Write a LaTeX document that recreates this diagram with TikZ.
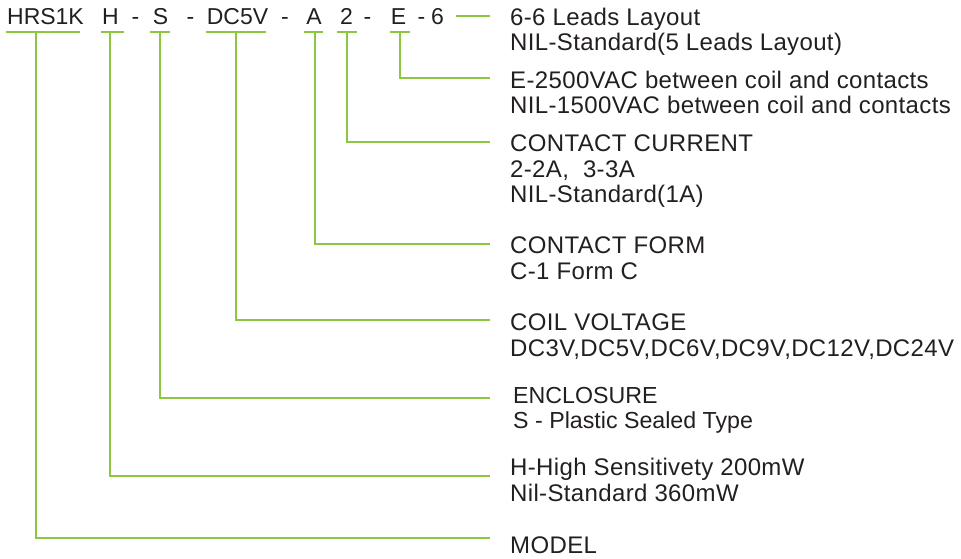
\documentclass[tikz,border=0pt]{standalone}
\usepackage{fontspec}
\setmainfont{Liberation Sans}
\newfontfamily\descfont{Liberation Sans}[LetterSpace=1.5]
\definecolor{lg}{RGB}{141,198,63}
\definecolor{txt}{RGB}{35,31,32}
\begin{document}
\begin{tikzpicture}[x=1pt,y=-1pt,
  code/.style={anchor=base,inner sep=0pt,font=\fontsize{23}{26}\selectfont,text=txt},
  desc/.style={anchor=base west,inner sep=0pt,font=\descfont\fontsize{24}{26}\selectfont,text=txt},
  descs/.style={anchor=base west,inner sep=0pt,font=\fontsize{23.2}{26}\selectfont,text=txt},
  lead/.style={draw=lg,line width=1.8pt}]
\useasboundingbox (0,0) rectangle (961,559);
% code pieces
\node[code] (cM) at (45.5,25) {HRS1K};
\node[code] (cH) at (110.5,25) {H};
\node[code] (d1) at (135.5,25) {-};
\node[code] (cS) at (160.5,25) {S};
\node[code] (d2) at (190.5,25) {-};
\node[code] (cV) at (237.5,25) {DC5V};
\node[code] (d3) at (285,25) {-};
\node[code] (cA) at (314,25) {A};
\node[code] (c2) at (346.5,25) {2};
\node[code] (d4) at (367.5,25) {-};
\node[code] (cE) at (398.5,25) {E};
\node[code] (d5) at (421.5,25) {-};
\node[code] (c6) at (437.5,25) {6};
% underlines
\coordinate (uMa) at (6,32);   \coordinate (uMb) at (80,32);
\coordinate (uHa) at (101,32); \coordinate (uHb) at (124,32);
\coordinate (uSa) at (150,32); \coordinate (uSb) at (170,32);
\coordinate (uVa) at (206,32); \coordinate (uVb) at (266,32);
\coordinate (uAa) at (304,32); \coordinate (uAb) at (323,32);
\coordinate (u2a) at (337,32); \coordinate (u2b) at (357,32);
\coordinate (uEa) at (390,32); \coordinate (uEb) at (410,32);
\foreach \u in {M,H,S,V,A,2,E}{\draw[lead] (u\u a) -- (u\u b);}
% connector starts
\coordinate (bM) at (36,32);
\coordinate (bH) at (110,32);
\coordinate (bS) at (160,32);
\coordinate (bV) at (236,32);
\coordinate (bA) at (315,32);
\coordinate (b2) at (347,32);
\coordinate (bE) at (400,32);
% descriptions
\node[desc] (t6a) at (510,25.5) {6-6 Leads Layout};
\node[desc] (t6b) at (510,51) {NIL-Standard(5 Leads Layout)};
\node[desc] (tEa) at (510,88.5) {E-2500VAC between coil and contacts};
\node[desc] (tEb) at (510,114) {NIL-1500VAC between coil and contacts};
\node[desc] (t2a) at (510,151.5) {CONTACT CURRENT};
\node[desc] (t2b) at (510,177) {2-2A,\ \ 3-3A};
\node[desc] (t2c) at (510,202.5) {NIL-Standard(1A)};
\node[desc] (tAa) at (510,253.5) {CONTACT FORM};
\node[desc] (tAb) at (510,279) {C-1 Form C};
\node[desc] (tVa) at (510,330.5) {COIL VOLTAGE};
\node[desc] (tVb) at (510,356) {DC3V,DC5V,DC6V,DC9V,DC12V,DC24V};
\node[descs] (tSa) at (513,403.5) {ENCLOSURE};
\node[descs] (tSb) at (513,428) {S - Plastic Sealed Type};
\node[desc] (tHa) at (510,475.5) {H-High Sensitivety 200mW};
\node[desc] (tHb) at (510,501) {Nil-Standard 360mW};
\node[desc] (tMa) at (510,553.5) {MODEL};
% connector ends
\coordinate (s6) at (456,16); \coordinate (e6) at (490,16);
\coordinate (eE) at (490,78);
\coordinate (e2) at (490,142);
\coordinate (eA) at (490,244);
\coordinate (eV) at (490,320);
\coordinate (eS) at (490,398);
\coordinate (eH) at (490,476);
\coordinate (eM) at (490,538);
\draw[lead] (s6) -- (e6);
\foreach \u in {E,2,A,V,S,H,M}{\draw[lead] (b\u) |- (e\u);}
\end{tikzpicture}
\end{document}
